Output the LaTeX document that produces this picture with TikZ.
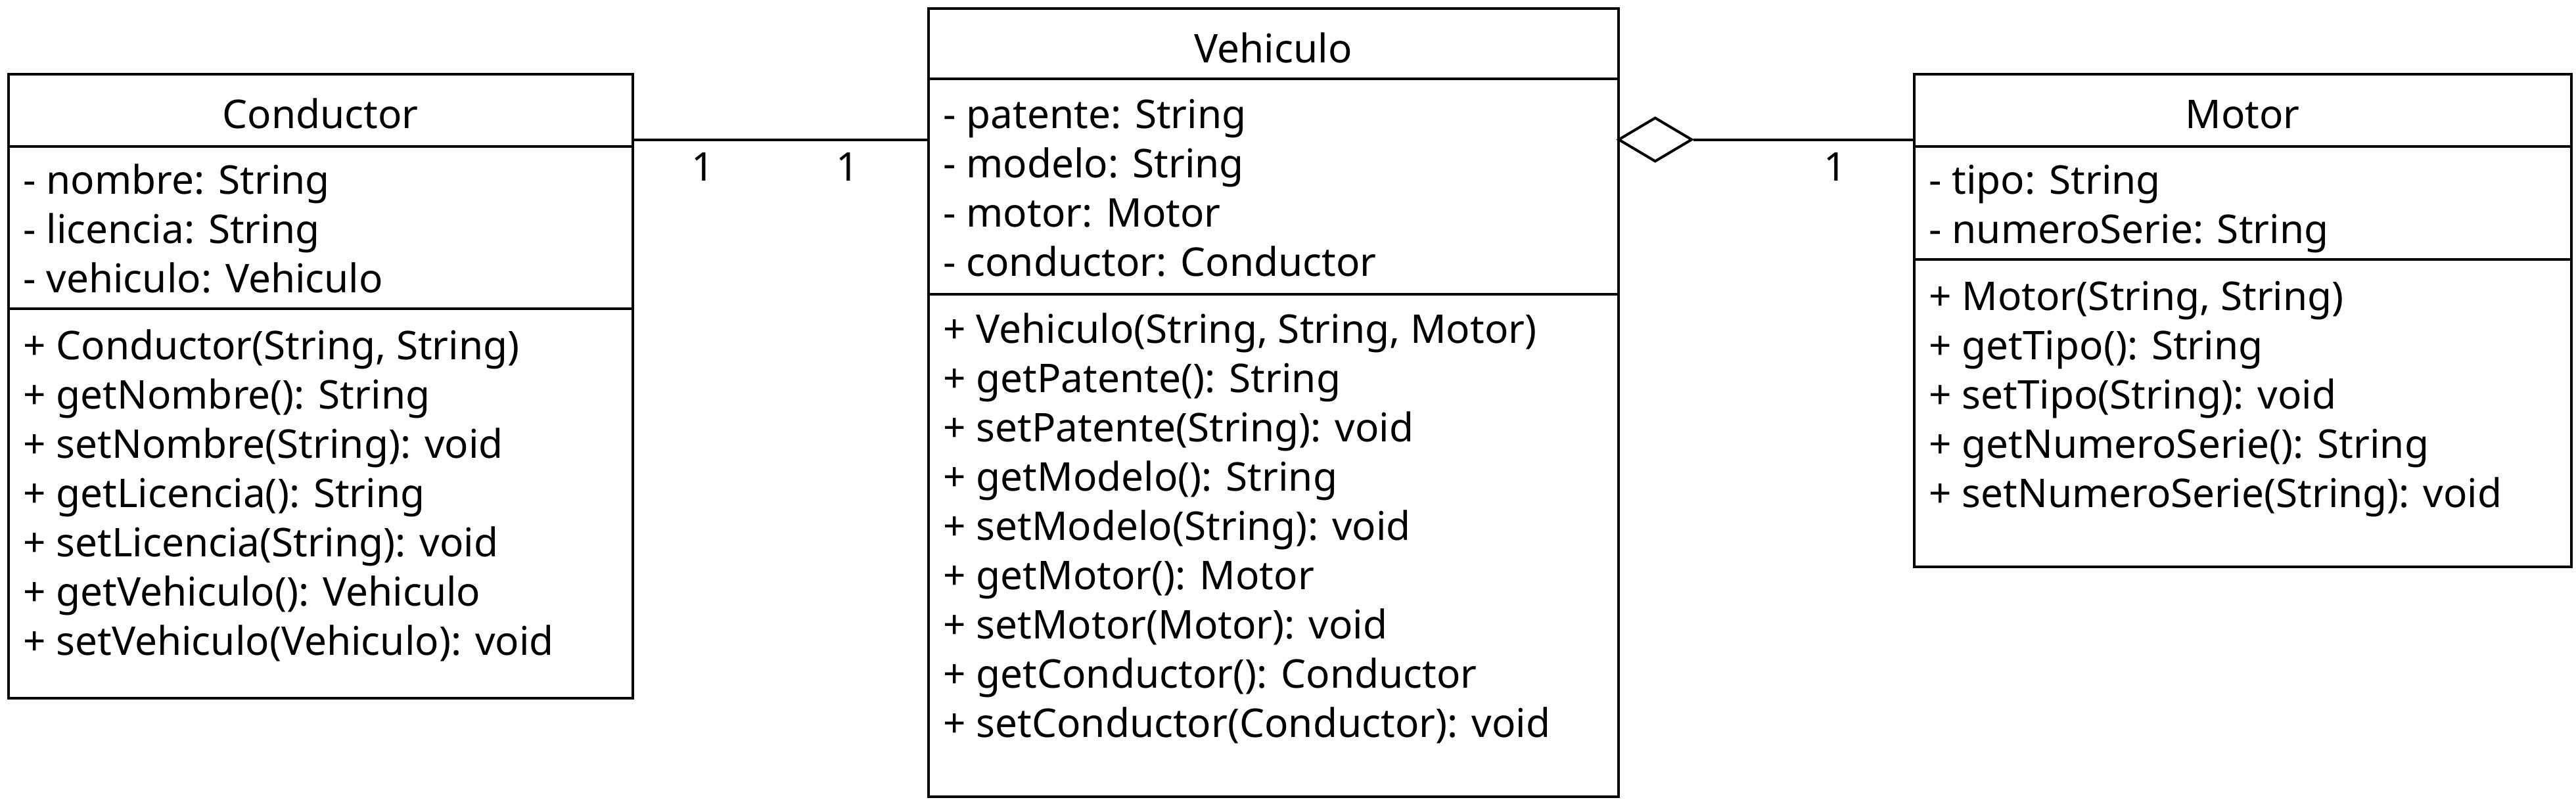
\documentclass[tikz,border=0pt]{standalone}
\usepackage{fontspec}
\setmainfont{Noto Sans}
\usetikzlibrary{shapes.geometric}
\begin{document}
\begin{tikzpicture}[x=1pt,y=-1pt,
  box/.style={draw,line width=1.6pt,fill=white,inner sep=0pt,rectangle},
  sep/.style={line width=1.6pt},
  txt/.style={anchor=base west,inner sep=0pt,font=\fontsize{24.1}{28}\selectfont},
  ttl/.style={anchor=base,inner sep=0pt,font=\fontsize{24.1}{28}\selectfont},
  mult/.style={anchor=base,inner sep=0pt,font=\fontsize{24.1}{28}\selectfont},
  conn/.style={line width=1.6pt},
  agg/.style={diamond,draw,line width=1.6pt,fill=white,inner sep=0pt,minimum width=45pt,minimum height=27pt}
]
\useasboundingbox (0,0) rectangle (1568,488);
% ---------- Conductor ----------
\node[box,minimum width=380pt,minimum height=380pt] (cond) at (195,235) {};
\draw[sep] (5,89) -- (385,89);
\draw[sep] (5,188) -- (385,188);
\node[ttl] (condT) at (195,78) {Conductor};
\node[txt] (c1) at (14,118) {- nombre: String};
\node[txt] (c2) at (14,148) {- licencia: String};
\node[txt] (c3) at (14,178) {- vehiculo: Vehiculo};
\node[txt] (c4) at (14,219) {+ Conductor(String, String)};
\node[txt] (c5) at (14,249) {+ getNombre(): String};
\node[txt] (c6) at (14,279) {+ setNombre(String): void};
\node[txt] (c7) at (14,309) {+ getLicencia(): String};
\node[txt] (c8) at (14,339) {+ setLicencia(String): void};
\node[txt] (c9) at (14,369) {+ getVehiculo(): Vehiculo};
\node[txt] (c10) at (14,399) {+ setVehiculo(Vehiculo): void};
% ---------- Vehiculo ----------
\node[box,minimum width=420pt,minimum height=480pt] (veh) at (775,245) {};
\draw[sep] (565,48) -- (985,48);
\draw[sep] (565,179) -- (985,179);
\node[ttl] (vehT) at (775,38) {Vehiculo};
\node[txt] (v1) at (574,78) {- patente: String};
\node[txt] (v2) at (574,108) {- modelo: String};
\node[txt] (v3) at (574,138) {- motor: Motor};
\node[txt] (v4) at (574,168) {- conductor: Conductor};
\node[txt] (v5) at (574,209) {+ Vehiculo(String, String, Motor)};
\node[txt] (v6) at (574,239) {+ getPatente(): String};
\node[txt] (v7) at (574,269) {+ setPatente(String): void};
\node[txt] (v8) at (574,299) {+ getModelo(): String};
\node[txt] (v9) at (574,329) {+ setModelo(String): void};
\node[txt] (v10) at (574,359) {+ getMotor(): Motor};
\node[txt] (v11) at (574,389) {+ setMotor(Motor): void};
\node[txt] (v12) at (574,419) {+ getConductor(): Conductor};
\node[txt] (v13) at (574,449) {+ setConductor(Conductor): void};
% ---------- Motor ----------
\node[box,minimum width=400pt,minimum height=300pt] (mot) at (1365,195) {};
\draw[sep] (1165,89) -- (1565,89);
\draw[sep] (1165,158) -- (1565,158);
\node[ttl] (motT) at (1365,78) {Motor};
\node[txt] (m1) at (1174,118) {- tipo: String};
\node[txt] (m2) at (1174,148) {- numeroSerie: String};
\node[txt] (m3) at (1174,189) {+ Motor(String, String)};
\node[txt] (m4) at (1174,219) {+ getTipo(): String};
\node[txt] (m5) at (1174,249) {+ setTipo(String): void};
\node[txt] (m6) at (1174,279) {+ getNumeroSerie(): String};
\node[txt] (m7) at (1174,309) {+ setNumeroSerie(String): void};
% ---------- connectors ----------
\draw[conn] (cond.east |- 0,85) -- (veh.west |- 0,85);
\node[mult] (mc1) at (428,110) {1};
\node[mult] (mc2) at (516,110) {1};
\node[agg] (dia) at (1007.5,85) {};
\draw[conn] (dia.east) -- (mot.west |- dia.east);
\node[mult] (mm1) at (1117,110) {1};
\end{tikzpicture}
\end{document}
